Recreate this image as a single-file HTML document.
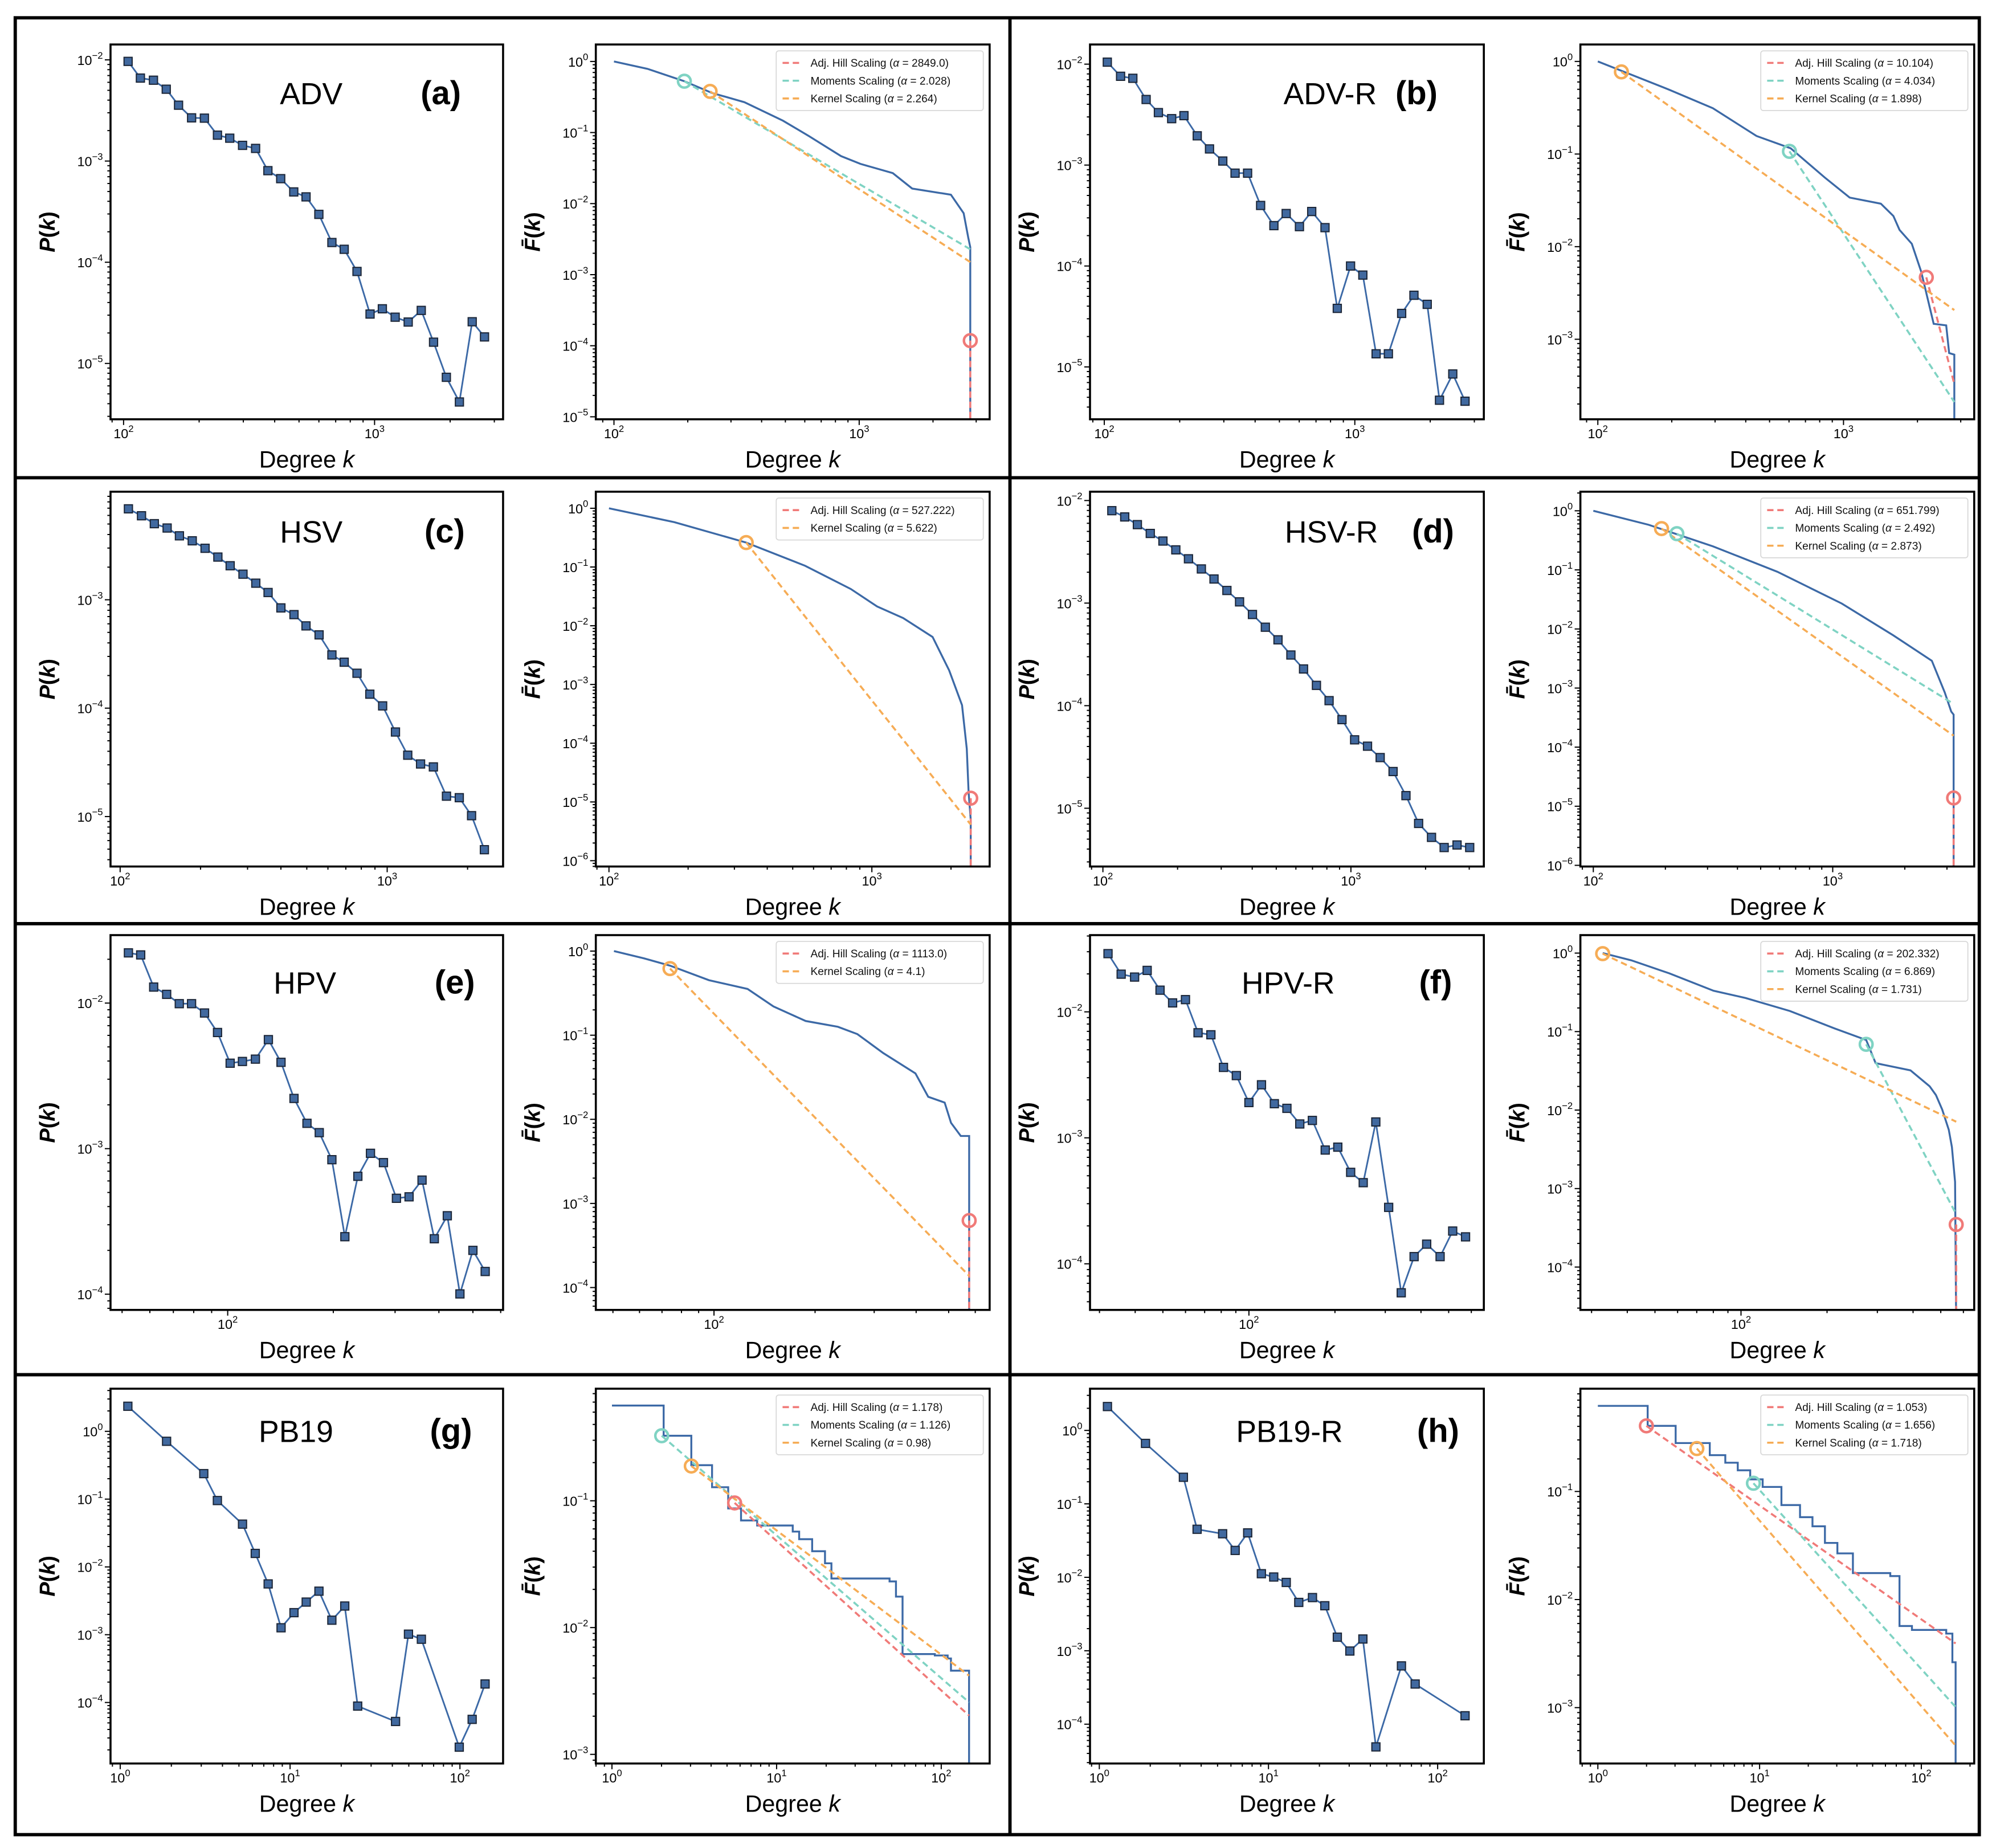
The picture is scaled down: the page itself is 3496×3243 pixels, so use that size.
<!DOCTYPE html>
<html><head><meta charset="utf-8"><style>
html,body{margin:0;padding:0;background:#fff}
svg{display:block}
text{font-family:"Liberation Sans","DejaVu Sans",sans-serif}
</style></head><body>
<svg id="fig" xmlns="http://www.w3.org/2000/svg" width="3496" height="3243" viewBox="0 0 1568 1454.5">
<rect x="0" y="0" width="1568" height="1454.5" fill="#fff"/>
</svg>
<script>
// ---------- DATA (log10 values) ----------
const aK=[2.018,2.067,2.119,2.170,2.219,2.271,2.322,2.374,2.423,2.474,2.526,2.575,2.626,2.678,2.727,2.778,2.830,2.879,2.930,2.982,3.031,3.082,3.134,3.186,3.235,3.286,3.338,3.389,3.438];
const aP=[-2.015,-2.180,-2.201,-2.290,-2.448,-2.573,-2.576,-2.744,-2.774,-2.845,-2.875,-3.095,-3.174,-3.305,-3.354,-3.527,-3.805,-3.872,-4.091,-4.512,-4.460,-4.543,-4.591,-4.476,-4.790,-5.137,-5.381,-4.588,-4.738];
const aCK=[2,2.137,2.287,2.400,2.532,2.689,2.795,2.926,3.005,3.137,3.216,3.374,3.426,3.445,3.453,3.453];
const aCF=[0,-0.104,-0.278,-0.443,-0.573,-0.833,-1.050,-1.332,-1.441,-1.571,-1.788,-1.875,-2.135,-2.483,-2.613,-5.3];
const aFitMethod=["hill","moments","kernel"];
const aFitAlpha=["2849.0","2.028","2.264"];
const aFitK=[3.453,2.287,2.392];
const aFitF=[-3.928,-0.278,-0.421];

const bK=[2.012,2.065,2.114,2.167,2.216,2.269,2.318,2.371,2.420,2.473,2.522,2.572,2.624,2.677,2.726,2.779,2.828,2.881,2.930,2.983,3.032,3.085,3.134,3.187,3.236,3.289,3.338,3.391,3.440];
const bP=[-1.98,-2.12,-2.14,-2.35,-2.48,-2.54,-2.51,-2.71,-2.84,-2.96,-3.08,-3.08,-3.40,-3.60,-3.48,-3.61,-3.46,-3.62,-4.42,-4.00,-4.09,-4.87,-4.87,-4.47,-4.29,-4.38,-5.33,-5.07,-5.34];
const bCK=[2,2.101,2.291,2.468,2.646,2.785,2.924,3.025,3.152,3.203,3.228,3.278,3.316,3.367,3.418,3.430,3.451,3.451];
const bCF=[0,-0.106,-0.306,-0.505,-0.805,-0.938,-1.254,-1.470,-1.536,-1.669,-1.819,-1.969,-2.268,-2.833,-2.850,-3.149,-3.166,-4.2];
const bFitMethod=["hill","moments","kernel"];
const bFitAlpha=["10.104","4.034","1.898"];
const bFitK=[3.337,2.780,2.096];
const bFitF=[-2.331,-0.971,-0.113];

const cK=[2.031,2.080,2.128,2.176,2.222,2.270,2.318,2.366,2.412,2.460,2.508,2.554,2.602,2.651,2.696,2.745,2.793,2.839,2.887,2.935,2.983,3.031,3.077,3.125,3.173,3.222,3.270,3.316,3.364];
const cP=[-2.161,-2.225,-2.298,-2.338,-2.410,-2.456,-2.525,-2.606,-2.686,-2.764,-2.847,-2.933,-3.075,-3.137,-3.241,-3.324,-3.509,-3.576,-3.678,-3.871,-3.979,-4.220,-4.434,-4.515,-4.542,-4.812,-4.826,-4.992,-5.306];
const cCK=[2,2.249,2.522,2.746,2.920,3.020,3.119,3.231,3.294,3.343,3.361,3.368,3.376,3.376];
const cCF=[0,-0.237,-0.584,-0.979,-1.375,-1.672,-1.869,-2.191,-2.760,-3.353,-4.095,-4.837,-5.3,-6.4];
const cFitMethod=["hill","kernel"];
const cFitAlpha=["527.222","5.622"];
const cFitK=[3.376,2.522];
const cFitF=[-4.936,-0.584];

const dK=[2.036,2.088,2.139,2.191,2.242,2.294,2.345,2.397,2.448,2.500,2.551,2.603,2.655,2.706,2.758,2.809,2.861,2.912,2.964,3.015,3.067,3.118,3.170,3.222,3.273,3.325,3.376,3.428,3.479];
const dP=[-2.099,-2.160,-2.235,-2.321,-2.395,-2.481,-2.568,-2.667,-2.765,-2.877,-2.988,-3.111,-3.235,-3.358,-3.506,-3.642,-3.802,-3.951,-4.136,-4.333,-4.395,-4.506,-4.642,-4.877,-5.148,-5.284,-5.383,-5.358,-5.383];
const dCK=[2,2.231,2.500,2.769,3.038,3.253,3.414,3.468,3.495,3.505,3.505];
const dCF=[0,-0.237,-0.602,-1.032,-1.570,-2.108,-2.538,-3.075,-3.398,-3.45,-6.3];
const dFitMethod=["hill","moments","kernel"];
const dFitAlpha=["651.799","2.492","2.873"];
const dFitK=[3.505,2.349,2.285];
const dFitF=[-4.86,-0.387,-0.301];

const eK=[1.717,1.752,1.789,1.826,1.862,1.897,1.934,1.971,2.007,2.042,2.079,2.116,2.152,2.189,2.226,2.261,2.297,2.334,2.371,2.407,2.444,2.481,2.517,2.554,2.589,2.626,2.662,2.699,2.734];
const eP=[-1.655,-1.669,-1.890,-1.940,-2.004,-2.004,-2.068,-2.202,-2.413,-2.401,-2.385,-2.251,-2.407,-2.655,-2.826,-2.890,-3.076,-3.605,-3.190,-3.032,-3.096,-3.341,-3.331,-3.216,-3.619,-3.461,-3.998,-3.699,-3.844];
const eCK=[1.702,1.792,1.869,1.985,2.100,2.177,2.273,2.369,2.427,2.504,2.600,2.638,2.687,2.706,2.735,2.760,2.760];
const eCF=[0,-0.087,-0.173,-0.346,-0.450,-0.658,-0.831,-0.900,-0.987,-1.212,-1.454,-1.732,-1.801,-2.042,-2.198,-2.198,-4.6];
const eFitMethod=["hill","kernel"];
const eFitAlpha=["1113.0","4.1"];
const eFitK=[2.760,1.869];
const eFitF=[-3.203,-0.208];

const fK=[1.507,1.553,1.600,1.644,1.689,1.733,1.778,1.822,1.867,1.911,1.956,2.000,2.044,2.089,2.133,2.178,2.222,2.267,2.311,2.356,2.400,2.444,2.489,2.533,2.578,2.622,2.669,2.713,2.758];
const fP=[-1.538,-1.701,-1.724,-1.671,-1.828,-1.929,-1.903,-2.166,-2.182,-2.441,-2.506,-2.720,-2.579,-2.729,-2.766,-2.890,-2.862,-3.097,-3.074,-3.274,-3.356,-2.874,-3.552,-4.230,-3.943,-3.844,-3.943,-3.740,-3.786];
const fCK=[1.516,1.616,1.749,1.904,2.016,2.171,2.327,2.438,2.471,2.593,2.660,2.682,2.704,2.727,2.738,2.749,2.753];
const fCF=[0,-0.092,-0.258,-0.480,-0.572,-0.738,-0.959,-1.107,-1.402,-1.494,-1.697,-1.808,-1.993,-2.251,-2.472,-2.915,-4.8];
const fFitMethod=["hill","moments","kernel"];
const fFitAlpha=["202.332","6.869","1.731"];
const fFitK=[2.753,2.438,1.516];
const fFitF=[-3.458,-1.162,-0.007];

const gK=[0.045,0.273,0.492,0.572,0.720,0.795,0.871,0.947,1.023,1.095,1.170,1.246,1.322,1.398,1.621,1.697,1.773,1.996,2.072,2.148];
const gP=[0.370,-0.147,-0.624,-1.021,-1.369,-1.801,-2.251,-2.898,-2.675,-2.519,-2.358,-2.786,-2.577,-4.053,-4.280,-2.992,-3.067,-4.659,-4.249,-3.727];
const gSK=[0,0.314,0.482,0.608,0.706,0.784,0.882,1.098,1.137,1.216,1.294,1.333,1.686,1.725,1.765,1.961,2.039,2.059,2.169];
const gSF=[-0.249,-0.487,-0.719,-0.893,-1.060,-1.155,-1.195,-1.243,-1.303,-1.398,-1.493,-1.613,-1.636,-1.756,-2.209,-2.220,-2.244,-2.340,-3.3];
const gFitMethod=["hill","moments","kernel"];
const gFitAlpha=["1.178","1.126","0.98"];
const gFitK=[0.745,0.302,0.482];
const gFitF=[-1.017,-0.487,-0.726];

const hK=[0.048,0.273,0.497,0.578,0.729,0.803,0.877,0.958,1.031,1.105,1.179,1.260,1.333,1.407,1.481,1.558,1.635,1.786,1.867,2.162];
const hP=[0.325,-0.177,-0.638,-1.346,-1.407,-1.634,-1.395,-1.951,-1.996,-2.070,-2.342,-2.276,-2.387,-2.815,-3.004,-2.840,-4.309,-3.206,-3.453,-3.885];
const hSK=[0,0.308,0.481,0.692,0.788,0.865,0.942,1.019,1.135,1.250,1.327,1.404,1.481,1.577,1.808,1.865,1.942,2.154,2.192,2.212];
const hSF=[-0.208,-0.393,-0.552,-0.664,-0.734,-0.804,-0.888,-0.958,-1.126,-1.238,-1.322,-1.476,-1.573,-1.755,-1.783,-2.245,-2.281,-2.315,-2.580,-3.6];
const hFitMethod=["hill","moments","kernel"];
const hFitAlpha=["1.053","1.656","1.718"];
const hFitK=[0.300,0.962,0.612];
const hFitF=[-0.393,-0.924,-0.603];

// ---------- LAYOUT ----------
const NS="http://www.w3.org/2000/svg";
const svg=document.getElementById('fig');
const COLORS={hill:"#f07a78",moments:"#7fd3c3",kernel:"#f6ac55"};
const NAMES={hill:"Adj. Hill Scaling",moments:"Moments Scaling",kernel:"Kernel Scaling"};
const LINE="#3c69a6";
function mk(tag,parent,attrs){const e=document.createElementNS(NS,tag);for(const k in attrs)e.setAttribute(k,attrs[k]);parent.appendChild(e);return e;}
let clipId=0;

function axesSetup(id,box,xlim,ylim,ylabelKind){
  const g=mk('g',svg,{});
  
  
  const [x0,x1,y0,y1]=box;
  const sx=v=>x0+(v-xlim[0])/(xlim[1]-xlim[0])*(x1-x0);
  const sy=v=>y0+(ylim[1]-v)/(ylim[1]-ylim[0])*(y1-y0);
  const cid='clip'+(clipId++);
  const cp=mk('clipPath',g,{id:cid});
  mk('rect',cp,{x:x0,y:y0,width:x1-x0,height:y1-y0});
  const plot=mk('g',g,{'clip-path':'url(#'+cid+')'});
  
  
  // ticks
  const tg=mk('g',g,{stroke:'#000','stroke-width':0.9});
  
  
  for(let d=Math.floor(xlim[0]);d<=Math.ceil(xlim[1]);d++){
    for(let m=1;m<=9;m++){
      const v=d+Math.log10(m);
      if(v<xlim[0]-1e-6||v>xlim[1]+1e-6)continue;
      const X=sx(v);const L=m===1?4.5:2.5;
      mk('line',tg,{x1:X,x2:X,y1:y1,y2:y1+L});
      if(m===1){
        const t=mk('text',g,{x:X,y:y1+15,'text-anchor':'middle','font-size':10.5,fill:'#000'});
        
        
        t.textContent='10';
        const s=mk('tspan',t,{dy:-5,'font-size':7.5});s.textContent=String(d).replace('-','\u2212');
      }
    }
  }
  for(let d=Math.floor(ylim[0]);d<=Math.ceil(ylim[1]);d++){
    for(let m=1;m<=9;m++){
      const v=d+Math.log10(m);
      if(v<ylim[0]-1e-6||v>ylim[1]+1e-6)continue;
      const Y=sy(v);const L=m===1?4.5:2.5;
      mk('line',tg,{x1:x0,x2:x0-L,y1:Y,y2:Y});
      if(m===1){
        const t=mk('text',g,{x:x0-6,y:Y+4,'text-anchor':'end','font-size':10.5,fill:'#000'});
        
        
        t.textContent='10';
        const s=mk('tspan',t,{dy:-5,'font-size':7.5});s.textContent=String(d).replace('-','\u2212');
      }
    }
  }
  const fr=mk('rect',g,{x:x0,y:y0,width:x1-x0,height:y1-y0,fill:'none',stroke:'#000','stroke-width':1.6});
  
  
  const xl=mk('text',g,{x:(x0+x1)/2,y:y1+38,'text-anchor':'middle','font-size':18.5,fill:'#000'});
  
  
  xl.textContent='Degree ';
  const ki=mk('tspan',xl,{'font-style':'italic'});ki.textContent='k';
  const yc=(y0+y1)/2, yx=x0-44;
  const yl=mk('text',g,{x:yx,y:yc,'text-anchor':'middle','font-size':17,'font-weight':'bold',fill:'#000',transform:'rotate(-90 '+yx+' '+yc+')','font-family':'DejaVu Sans, sans-serif'});
  
  
  const a=mk('tspan',yl,{'font-style':'italic'});a.textContent=ylabelKind==='P'?'P':'F\u0304';
  const b=mk('tspan',yl,{});b.textContent='(';
  const c=mk('tspan',yl,{'font-style':'italic'});c.textContent='k';
  const d2=mk('tspan',yl,{});d2.textContent=')';
  return {g,plot,sx,sy,box,xlim,ylim};
}

function drawPK(id,ax,K,P){
  const pts=K.map((k,i)=>ax.sx(k).toFixed(2)+','+ax.sy(P[i]).toFixed(2)).join(' ');
  const pl=mk('polyline',ax.plot,{points:pts,fill:'none',stroke:LINE,'stroke-width':1.3});
  
  
  K.forEach((k,i)=>{
    const r=mk('rect',ax.plot,{x:ax.sx(k)-3.2,y:ax.sy(P[i])-3.2,width:6.4,height:6.4,fill:'#41699f',stroke:'#1b2536','stroke-width':0.9});
    
    
  });
}

function drawCurve(id,ax,K,F){
  const pts=K.map((k,i)=>ax.sx(k).toFixed(2)+','+ax.sy(F[i]).toFixed(2)).join(' ');
  const pl=mk('polyline',ax.plot,{points:pts,fill:'none',stroke:LINE,'stroke-width':1.5});
  
  
}
function drawSteps(id,ax,K,F){
  let d='M'+ax.sx(K[0])+','+ax.sy(F[0]);
  for(let i=1;i<K.length;i++){d+=' H'+ax.sx(K[i])+' V'+ax.sy(F[i]);}
  const p=mk('path',ax.plot,{d:d,fill:'none',stroke:LINE,'stroke-width':1.5});
  
  
}
function drawFits(id,ax,methods,alphas,fk,ff,kmax){
  methods.forEach((m,i)=>{
    const al=parseFloat(alphas[i]);
    const x1=ax.sx(fk[i]),y1=ax.sy(ff[i]);
    let x2,y2;
    if(kmax-fk[i]<0.002){x2=x1;y2=ax.box[3]+5;}
    else{x2=ax.sx(kmax);y2=ax.sy(ff[i]-al*(kmax-fk[i]));}
    const l=mk('line',ax.plot,{x1:x1,y1:y1,x2:x2,y2:y2,stroke:COLORS[m],'stroke-width':1.6,'stroke-dasharray':'5,3'});
    
    
  });
  methods.forEach((m,i)=>{
    const c=mk('circle',ax.g,{cx:ax.sx(fk[i]),cy:ax.sy(ff[i]),r:5,fill:'none',stroke:COLORS[m],'stroke-width':2});
    
    
  });
  // legend
  const n=methods.length;
  const lx=ax.box[1]-168, ly=ax.box[2]+5;
  const lg=mk('g',ax.g,{});
  
  
  mk('rect',lg,{x:lx,y:ly,width:163,height:14*n+5,rx:2,fill:'#fff','fill-opacity':0.85,stroke:'#d8d8d8','stroke-width':0.8});
  methods.forEach((m,i)=>{
    const yy=ly+9.5+i*14;
    const e=mk('g',lg,{});
    
    
    mk('line',e,{x1:lx+5,x2:lx+21,y1:yy,y2:yy,stroke:COLORS[m],'stroke-width':1.6,'stroke-dasharray':'5,3'});
    const t=mk('text',e,{x:lx+27,y:yy+3,'font-size':8.6,fill:'#111'});
    t.textContent=NAMES[m]+' (';
    const s=mk('tspan',t,{'font-style':'italic'});s.textContent='\u03b1';
    const s2=mk('tspan',t,{});s2.textContent=' = '+alphas[i]+')';
  });
}
function titles(id,name,nx,letter,lx,y){
  const t=mk('text',svg,{x:nx,y:y,'text-anchor':'middle','font-size':24,fill:'#000'});
  
  
  t.textContent=name;
  const l=mk('text',svg,{x:lx,y:y,'text-anchor':'middle','font-size':26,'font-weight':'bold',fill:'#000'});
  
  
  l.textContent=letter;
}

const ROWS=[[35,330],[387,682],[736,1031],[1093,1388]];
const LL=[87,396],LR=[469,779],RL=[858,1168],RR=[1244,1554];
function B(c,r){return [c[0],c[1],ROWS[r][0],ROWS[r][1]];}

// (a)
let ax=axesSetup('panel-a-pk',B(LL,0),[1.948,3.512],[-5.552,-1.848],'P');drawPK('panel-a',ax,aK,aP);
ax=axesSetup('panel-a-ccdf',B(LR,0),[1.926,3.532],[-5.035,0.239],'F');drawCurve('panel-a',ax,aCK,aCF);drawFits('panel-a',ax,aFitMethod,aFitAlpha,aFitK,aFitF,3.453);
titles('panel-a','ADV',245,'(a)',347,82);
// (b)
ax=axesSetup('panel-b-pk',B(RL,0),[1.943,3.515],[-5.519,-1.805],'P');drawPK('panel-b',ax,bK,bP);
ax=axesSetup('panel-b-ccdf',B(RR,0),[1.929,3.532],[-3.864,0.183],'F');drawCurve('panel-b',ax,bCK,bCF);drawFits('panel-b',ax,bFitMethod,bFitAlpha,bFitK,bFitF,3.451);
titles('panel-b','ADV-R',1047,'(b)',1115,82);
// (c)
ax=axesSetup('panel-c-pk',B(LL,1),[1.964,3.434],[-5.461,-2.003],'P');drawPK('panel-c',ax,cK,cP);
ax=axesSetup('panel-c-ccdf',B(LR,1),[1.950,3.448],[-6.099,0.282],'F');drawCurve('panel-c',ax,cCK,cCF);drawFits('panel-c',ax,cFitMethod,cFitAlpha,cFitK,cFitF,3.376);
titles('panel-c','HSV',245,'(c)',350,427);
// (d)
ax=axesSetup('panel-d-pk',B(RL,1),[1.948,3.536],[-5.568,-1.914],'P');drawPK('panel-d',ax,dK,dP);
ax=axesSetup('panel-d-ccdf',B(RR,1),[1.946,3.591],[-6.02,0.323],'F');drawCurve('panel-d',ax,dCK,dCF);drawFits('panel-d',ax,dFitMethod,dFitAlpha,dFitK,dFitF,3.505);
titles('panel-d','HSV-R',1048,'(d)',1128,427);
// (e)
ax=axesSetup('panel-e-pk',B(LL,2),[1.666,2.785],[-4.108,-1.533],'P');drawPK('panel-e',ax,eK,eP);
ax=axesSetup('panel-e-ccdf',B(LR,2),[1.648,2.821],[-4.266,0.19],'F');drawCurve('panel-e',ax,eCK,eCF);drawFits('panel-e',ax,eFitMethod,eFitAlpha,eFitK,eFitF,2.760);
titles('panel-e','HPV',240,'(e)',358,782);
// (f)
ax=axesSetup('panel-f-pk',B(RL,2),[1.444,2.822],[-4.366,-1.391],'P');drawPK('panel-f',ax,fK,fP);
ax=axesSetup('panel-f-ccdf',B(RR,2),[1.438,2.816],[-4.546,0.229],'F');drawCurve('panel-f',ax,fCK,fCF);drawFits('panel-f',ax,fFitMethod,fFitAlpha,fFitK,fFitF,2.753);
titles('panel-f','HPV-R',1014,'(f)',1130,782);
// (g)
ax=axesSetup('panel-g-pk',B(LL,3),[-0.057,2.254],[-4.9,0.629],'P');drawPK('panel-g',ax,gK,gP);
ax=axesSetup('panel-g-ccdf',B(LR,3),[-0.098,2.294],[-3.072,-0.116],'F');drawSteps('panel-g',ax,gSK,gSF);drawFits('panel-g',ax,gFitMethod,gFitAlpha,gFitK,gFitF,2.169);
titles('panel-g','PB19',233,'(g)',355,1135);
// (h)
ax=axesSetup('panel-h-pk',B(RL,3),[-0.055,2.273],[-4.535,0.568],'P');drawPK('panel-h',ax,hK,hP);
ax=axesSetup('panel-h-ccdf',B(RR,3),[-0.108,2.327],[-3.517,-0.049],'F');drawSteps('panel-h',ax,hSK,hSF);drawFits('panel-h',ax,hFitMethod,hFitAlpha,hFitK,hFitF,2.212);
titles('panel-h','PB19-R',1015,'(h)',1132,1135);

// borders
const bg=mk('g',svg,{stroke:'#000','stroke-width':2.6,fill:'none'});


mk('rect',bg,{x:12,y:14,width:1546,height:1430});
mk('line',bg,{x1:795,x2:795,y1:14,y2:1444});
[376,727,1082].forEach(y=>mk('line',bg,{x1:12,x2:1558,y1:y,y2:y}));
</script>
</body></html>
